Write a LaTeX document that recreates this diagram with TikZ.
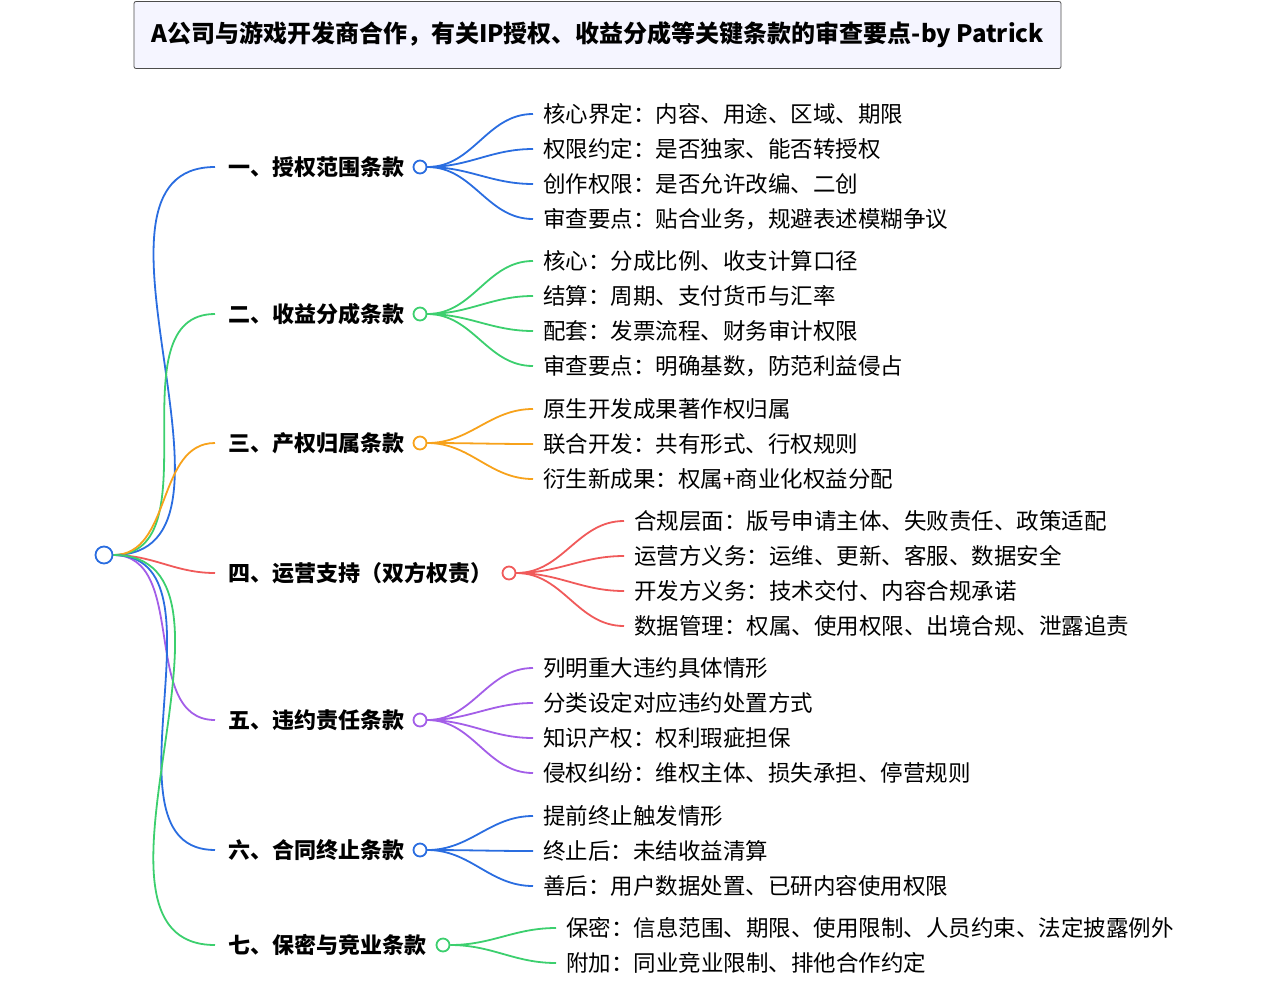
\documentclass[tikz,border=0pt]{standalone}
\usepackage{fontspec}
\setmainfont{Noto Sans CJK SC}
\begin{document}
\begin{tikzpicture}[x=1pt,y=-1pt,
  ln/.style={line width=1.8pt},
  dot/.style={circle,draw,line width=1.8pt,fill=white,inner sep=0,minimum size=13pt},
  br/.style={anchor=west,inner sep=0,font=\fontsize{22}{26}\selectfont\bfseries},
  ch/.style={anchor=west,inner sep=0,font=\fontsize{22.5}{26}\selectfont}]
\definecolor{cb}{HTML}{2A6DE0}\definecolor{cg}{HTML}{3CCF6E}\definecolor{co}{HTML}{F7A21B}
\definecolor{cr}{HTML}{F05A5A}\definecolor{cp}{HTML}{A35EE8}
\useasboundingbox (0,0) rectangle (1265,988);
\node[draw=black!70,fill=blue!4,rounded corners=2pt,minimum width=927pt,minimum height=67pt,line width=0.8pt,font=\fontsize{24}{28}\selectfont\bfseries] (title) at (597.5,35) {A公司与游戏开发商合作，有关IP授权、收益分成等关键条款的审查要点-by Patrick};
\node[dot,draw=cb,minimum size=17pt] (root) at (104,555) {};
\foreach \n/\y/\t/\cx/\c in {b1/167/一、授权范围条款/420/cb, b2/314/二、收益分成条款/420/cg, b3/443/三、产权归属条款/420/co, b4/573/四、运营支持（双方权责）/509/cr, b5/720/五、违约责任条款/420/cp, b6/850/六、合同终止条款/420/cb, b7/945/七、保密与竞业条款/443/cg}{
  \node[br] (\n t) at (228,\y) {\t};
  \coordinate (\n s) at (215,\y);
  \draw[ln,\c] (root.east) to[out=0,in=180] (\n s);
  \node[dot,draw=\c] (\n) at (\cx,\y) {};
}
\foreach \p/\k/\y/\x/\c/\t in {
 b1/1/114/543/cb/核心界定：内容、用途、区域、期限,
 b1/2/149/543/cb/权限约定：是否独家、能否转授权,
 b1/3/184/543/cb/创作权限：是否允许改编、二创,
 b1/4/219/543/cb/审查要点：贴合业务，规避表述模糊争议,
 b2/1/261/543/cg/核心：分成比例、收支计算口径,
 b2/2/296/543/cg/结算：周期、支付货币与汇率,
 b2/3/331/543/cg/配套：发票流程、财务审计权限,
 b2/4/366/543/cg/审查要点：明确基数，防范利益侵占,
 b3/1/409/543/co/原生开发成果著作权归属,
 b3/2/444/543/co/联合开发：共有形式、行权规则,
 b3/3/479/543/co/衍生新成果：权属+商业化权益分配,
 b4/1/521/634/cr/合规层面：版号申请主体、失败责任、政策适配,
 b4/2/556/634/cr/运营方义务：运维、更新、客服、数据安全,
 b4/3/591/634/cr/开发方义务：技术交付、内容合规承诺,
 b4/4/626/634/cr/数据管理：权属、使用权限、出境合规、泄露追责,
 b5/1/668/543/cp/列明重大违约具体情形,
 b5/2/703/543/cp/分类设定对应违约处置方式,
 b5/3/738/543/cp/知识产权：权利瑕疵担保,
 b5/4/773/543/cp/侵权纠纷：维权主体、损失承担、停营规则,
 b6/1/816/543/cb/提前终止触发情形,
 b6/2/851/543/cb/终止后：未结收益清算,
 b6/3/886/543/cb/善后：用户数据处置、已研内容使用权限,
 b7/1/928/566/cg/保密：信息范围、期限、使用限制、人员约束、法定披露例外,
 b7/2/963/566/cg/附加：同业竞业限制、排他合作约定}{
  \node[ch] (\p c\k) at (\x,\y) {\t};
  \draw[ln,\c] (\p.east) to[out=0,in=180] ([xshift=-10pt]\p c\k.west);
}
\end{tikzpicture}
\end{document}
